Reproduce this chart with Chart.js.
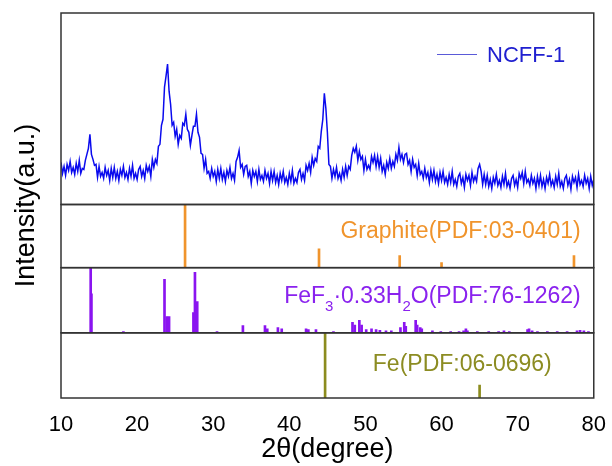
<!DOCTYPE html>
<html>
<head>
<meta charset="utf-8">
<script src="https://cdn.jsdelivr.net/npm/chart.js@4.4.0/dist/chart.umd.min.js"></script>
<style>
  html, body { margin:0; padding:0; background:#fff; }
  #wrap { width:612px; height:466px; position:relative; }
</style>
</head>
<body>
<div id="wrap"><canvas id="xrdChart" width="612" height="466"></canvas></div>
<script>
// XRD scan of NCFF-1 (2theta 10..80, step 0.2)
var scanStart = 10, scanStep = 0.2;
var ncffIntensity = [
  42, 31, 38, 29, 40,   34, 43, 32, 37, 30,   41, 33, 44, 31, 36,   // 10-12
  35, 44, 50, 56, 70,   50, 45, 39, 40, 27,   38, 28, 32, 26, 37,   // 13-15
  29, 34, 24, 36, 27,   37, 26, 33, 24, 35,   29, 38, 27, 32, 25,   // 16-18
  36, 28, 39, 26, 31,   25, 35, 38, 28, 34,   26, 39, 33, 38, 28,   // 19-21
  45, 37, 45, 41, 58,   60, 79, 85, 117, 128, 140, 113, 100, 79, 82, // 22-24
  68, 75, 60, 69, 66,   81, 79, 90, 75, 72,   59, 69, 78, 78, 90,   // 25-27
  72, 67, 51, 50, 36,   45, 31, 33, 26, 36,   28, 33, 23, 35, 26,   // 28-30
  36, 25, 32, 23, 34,   28, 37, 26, 31, 24,   43, 47, 54, 37, 40,   // 31-33
  30, 38, 39, 28, 33,   21, 34, 28, 33, 23,   35, 25, 29, 23, 34,   // 34-36
  26, 31, 21, 33, 24,   33, 22, 29, 20, 31,   24, 33, 22, 27, 20,   // 37-39
  31, 23, 34, 21, 26,   22, 32, 35, 25, 31,   24, 39, 34, 41, 32,   // 40-42
  47, 39, 46, 43, 58,   56, 73, 85, 111, 96,  72, 40, 38, 26, 35,   // 43-45
  28, 37, 26, 31, 24,   35, 27, 38, 29, 38,   35, 49, 56, 52, 58,   // 46-48
  44, 53, 45, 48, 34,   45, 35, 39, 35, 48,   42, 49, 38, 48, 37,   // 49-51
  46, 33, 39, 30, 42,   36, 46, 36, 43, 38,   50, 44, 57, 45, 50,   // 52-54
  42, 50, 51, 40, 44,   33, 45, 37, 40, 29,   41, 30, 33, 26, 36,   // 55-57
  27, 32, 22, 34, 25,   34, 23, 30, 21, 32,   24, 33, 22, 27, 20,   // 58-60
  30, 22, 33, 20, 25,   18, 28, 31, 21, 27,   17, 30, 24, 29, 19,   // 61-63
  32, 23, 28, 23, 36,   40, 33, 20, 30, 20,   29, 18, 25, 16, 27,   // 64-66
  21, 30, 19, 24, 17,   28, 20, 31, 18, 23,   16, 26, 29, 19, 25,   // 67-69
  17, 31, 26, 32, 21,   33, 22, 25, 19, 29,   21, 26, 16, 28, 19,   // 70-72
  29, 18, 25, 16, 27,   21, 30, 19, 24, 17,   28, 20, 31, 18, 23,   // 73-75
  16, 26, 29, 19, 25,   15, 28, 22, 27, 17,   30, 20, 24, 18, 29,   // 76-78
  21, 26, 16, 28, 19,   25                                             // 79-80
];

// reference patterns (relative intensity, %)
var graphiteAngles  = [26.3, 43.9, 54.5, 60.0, 77.4];
var graphiteHeights = [100, 30, 19, 8, 19];

var fef3Angles  = [13.9, 14.0, 18.2, 23.6, 23.9, 24.2, 27.4, 27.6, 27.9, 30.5,
                   33.9, 36.8, 37.1, 38.5, 39.0, 42.2, 42.5, 43.5, 45.8, 48.3,
                   48.6, 49.2, 49.5, 50.1, 50.8, 51.4, 51.9, 52.7, 53.4, 54.6,
                   55.1, 55.3, 56.6, 56.8, 57.2, 57.4, 58.8, 59.9, 61.2, 62.3,
                   62.9, 63.2, 63.4, 64.7, 66.2, 67.5, 68.2, 68.9, 71.3, 71.5,
                   71.9, 72.6, 73.9, 75.2, 76.5, 77.8, 78.2, 78.7, 79.3];
var fef3Heights = [100, 60, 2, 82, 25, 25, 31, 93, 48, 2,
                   11, 11, 6, 8, 6, 6, 5, 5, 2, 16,
                   12, 19, 12, 5, 6, 5, 4, 3, 3, 8,
                   16, 10, 19, 12, 8, 6, 3, 2, 2, 2,
                   3, 6, 3, 2, 2, 2, 3, 2, 5, 6,
                   3, 2, 2, 2, 2, 3, 4, 3, 2];

var feAngles  = [44.7, 65.0];
var feHeights = [100, 20];

var xTicks = [10, 20, 30, 40, 50, 60, 70, 80];

function pairs(xs, ys) {
  return xs.map(function(x, i){ return {x: x, y: ys[i]}; });
}
var ncffPoints = ncffIntensity.map(function(v, i){ return {x: scanStart + i * scanStep, y: v}; });

var FONT = "'Liberation Sans', Arial, sans-serif";

function fixWidth(scale){ scale.width = 61; }

var panelDecor = {
  id: 'panelDecor',
  afterDraw: function(chart) {
    var ctx = chart.ctx, area = chart.chartArea;
    ctx.save();
    // panel frames
    ctx.strokeStyle = '#333';
    ctx.lineWidth = 1.5;
    ['yFe', 'yFeF3', 'yGraphite', 'yXrd'].forEach(function(id){
      var s = chart.scales[id];
      ctx.strokeRect(area.left, s.top, area.right - area.left, s.bottom - s.top);
    });

    // legend of the scan
    var top = chart.scales.yXrd.top;
    ctx.strokeStyle = '#5a5ad8';
    ctx.lineWidth = 1;
    ctx.beginPath();
    ctx.moveTo(area.left + 376, top + 41.5);
    ctx.lineTo(area.left + 416, top + 41.5);
    ctx.stroke();
    ctx.fillStyle = '#2020d0';
    ctx.font = '22px ' + FONT;
    ctx.textAlign = 'left';
    ctx.textBaseline = 'alphabetic';
    ctx.fillText('NCFF-1', area.left + 426, top + 49);

    // phase labels
    ctx.font = '23px ' + FONT;
    ctx.textAlign = 'right';
    ctx.fillStyle = '#f0942c';
    ctx.fillText('Graphite(PDF:03-0401)', area.right - 13, chart.scales.yGraphite.top + 34);

    ctx.fillStyle = '#8c8c22';
    ctx.fillText('Fe(PDF:06-0696)', area.right - 42, chart.scales.yFe.top + 38);

    // FeF3·0.33H2O with subscripts
    var parts = [['FeF', 0], ['3', 1], ['\u00b70.33H', 0], ['2', 1], ['O(PDF:76-1262)', 0]];
    var big = '23px ' + FONT, small = '15px ' + FONT;
    var total = 0;
    parts.forEach(function(p){ ctx.font = p[1] ? small : big; total += ctx.measureText(p[0]).width; });
    var x = area.right - 13 - total;
    var base = chart.scales.yFeF3.top + 35;
    ctx.textAlign = 'left';
    ctx.fillStyle = '#8a22ee';
    parts.forEach(function(p){
      ctx.font = p[1] ? small : big;
      ctx.fillText(p[0], x, p[1] ? base + 8 : base);
      x += ctx.measureText(p[0]).width;
    });

    // y title across all panels
    ctx.save();
    ctx.translate(27, (area.top + area.bottom) / 2);
    ctx.rotate(-Math.PI / 2);
    ctx.font = '27px ' + FONT;
    ctx.fillStyle = '#000';
    ctx.textAlign = 'center';
    ctx.textBaseline = 'middle';
    ctx.fillText('Intensity(a.u.)', 0, 0);
    ctx.restore();

    ctx.restore();
  }
};

function stickSet(xs, ys, axis, color) {
  return {
    type: 'bar',
    data: pairs(xs, ys),
    yAxisID: axis,
    backgroundColor: color,
    borderWidth: 0,
    barThickness: 2,
    grouped: false
  };
}

function panelAxis(weight, maxVal) {
  return {
    type: 'linear',
    position: 'left',
    stack: 'panels',
    stackWeight: weight,
    min: 0,
    max: maxVal,
    grid: { display: false },
    border: { display: false },
    ticks: { display: false },
    afterFit: fixWidth
  };
}

var ctx = document.getElementById('xrdChart').getContext('2d');
var chart = new Chart(ctx, {
  type: 'line',
  data: {
    datasets: [
      {
        label: 'NCFF-1',
        data: ncffPoints,
        yAxisID: 'yXrd',
        borderColor: '#0a0aee',
        borderWidth: 1.5,
        pointRadius: 0,
        tension: 0,
        fill: false
      },
      stickSet(graphiteAngles, graphiteHeights, 'yGraphite', '#f0942c'),
      stickSet(fef3Angles, fef3Heights, 'yFeF3', '#8a14f0'),
      stickSet(feAngles, feHeights, 'yFe', '#8c8c1e')
    ]
  },
  options: {
    responsive: false,
    animation: false,
    layout: { padding: { top: 13, right: 15, left: 0, bottom: 0 } },
    plugins: {
      legend: { display: false },
      tooltip: { enabled: false }
    },
    scales: {
      x: {
        type: 'linear',
        min: 10,
        max: 80,
        offset: false,
        afterBuildTicks: function(scale){ scale.ticks = xTicks.map(function(v){ return {value: v}; }); },
        grid: { display: false },
        border: { display: false },
        ticks: {
          autoSkip: false,
          maxRotation: 0,
          padding: 6,
          color: '#000',
          font: { family: FONT, size: 22 }
        },
        title: {
          display: true,
          text: '2\u03b8(degree)',
          color: '#000',
          font: { family: FONT, size: 27 },
          padding: { top: 0, bottom: 0 }
        },
        afterFit: function(scale){ scale.height = 68; }
      },
      yFe: panelAxis(65, 100),
      yFeF3: panelAxis(65, 100),
      yGraphite: panelAxis(63, 100),
      yXrd: panelAxis(191, 191)
    }
  },
  plugins: [panelDecor]
});
</script>
</body>
</html>
